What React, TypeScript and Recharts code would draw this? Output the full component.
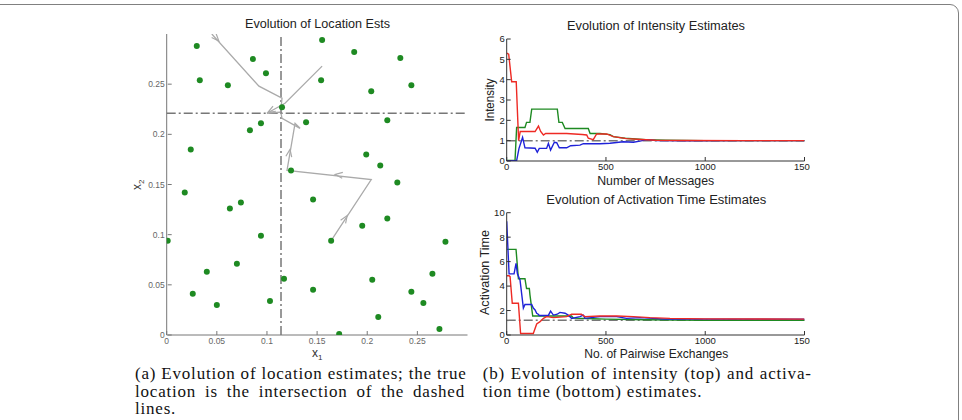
import { ScatterChart, Scatter, LineChart, Line, XAxis, YAxis, ReferenceLine } from 'recharts'

// sensor positions (x1, x2)
const sensors: [number, number][] = [
    [0.030, 0.288], [0.155, 0.294], [0.187, 0.282], [0.233, 0.276], [0.086, 0.275],
    [0.099, 0.261], [0.033, 0.254], [0.061, 0.249], [0.154, 0.254], [0.204, 0.243],
    [0.244, 0.249], [0.115, 0.227], [0.094, 0.211], [0.083, 0.204], [0.139, 0.212],
    [0.220, 0.214], [0.024, 0.185], [0.199, 0.180], [0.213, 0.169], [0.124, 0.164],
    [0.230, 0.152], [0.018, 0.142], [0.146, 0.135], [0.074, 0.132], [0.063, 0.126],
    [0.195, 0.109], [0.220, 0.116], [0.094, 0.099], [0.001, 0.094], [0.164, 0.094],
    [0.278, 0.093], [0.070, 0.071], [0.040, 0.063], [0.265, 0.061], [0.117, 0.056],
    [0.205, 0.055], [0.146, 0.045], [0.244, 0.043], [0.026, 0.041], [0.256, 0.032],
    [0.103, 0.034], [0.050, 0.030], [0.211, 0.018], [0.272, 0.006], [0.172, 0.001],
]

const trueLoc = { x: 0.114, y: 0.221 }

// estimate trajectories
const pathA: [number, number][] = [[0.045, 0.300], [0.092, 0.248], [0.115, 0.236], [0.114, 0.226]]
const pathB: [number, number][] = [[0.155, 0.268], [0.118, 0.231], [0.100, 0.221], [0.113, 0.222]]
const pathC: [number, number][] = [
    [0.164, 0.094], [0.204, 0.155], [0.120, 0.164], [0.128, 0.211],
    [0.133, 0.206], [0.115, 0.216], [0.114, 0.221],
]
// arrowheads: position and direction of travel
const arrows = [
    { x: 0.052, y: 0.293, dx: 0.047, dy: -0.052 },
    { x: 0.101, y: 0.222, dx: -0.018, dy: -0.010 },
    { x: 0.180, y: 0.119, dx: 0.040, dy: 0.061 },
    { x: 0.168, y: 0.160, dx: -0.084, dy: 0.009 },
    { x: 0.123, y: 0.185, dx: 0.008, dy: 0.047 },
]

const locTicks = [0, 0.05, 0.1, 0.15, 0.2, 0.25]

// intensity estimates vs number of messages
const intensityRed: [number, number][] = [
    [0, 5.3], [10, 5.25], [25, 3.9], [48, 3.9], [60, 1.0], [68, 1.45], [143, 1.45], [160, 1.72],
    [171, 1.45], [185, 1.28], [196, 1.36], [240, 1.35], [302, 1.35], [380, 1.3], [403, 1.28],
    [411, 1.12], [436, 1.05], [453, 1.33], [503, 1.33], [537, 1.2], [604, 1.1], [680, 1.06],
    [750, 1.02], [900, 1.01], [1200, 1.0], [1500, 1.0],
]
const intensityGreen: [number, number][] = [
    [0, 0.03], [42, 0.03], [50, 1.65], [92, 1.65], [100, 1.9], [117, 1.9], [126, 2.55], [255, 2.55],
    [263, 1.9], [280, 1.9], [294, 1.6], [411, 1.6], [420, 1.35], [470, 1.35], [520, 1.3], [537, 1.2],
    [596, 1.12], [650, 1.08], [700, 1.05], [800, 1.02], [1000, 1.0], [1500, 1.0],
]
const intensityBlue: [number, number][] = [
    [0, 0.02], [50, 0.02], [62, 0.62], [80, 1.16], [92, 0.65], [143, 0.63], [154, 0.43], [164, 0.62],
    [201, 0.62], [210, 0.87], [221, 0.54], [240, 0.92], [252, 0.9], [265, 0.65], [302, 0.65],
    [322, 0.75], [369, 0.78], [386, 0.85], [470, 0.85], [520, 0.87], [587, 0.95], [638, 0.92],
    [671, 0.98], [705, 1.05], [755, 1.0], [900, 0.99], [1200, 1.0], [1500, 1.0],
]
const trueIntensity = 1

// activation time estimates vs pairwise exchanges
const activationBlue: [number, number][] = [
    [0, 9.3], [12, 5.0], [37, 5.0], [47, 5.86], [54, 5.0], [67, 4.5], [84, 2.2], [92, 2.5], [126, 2.5],
    [134, 2.2], [143, 2.05], [151, 1.78], [159, 1.7], [164, 1.6], [210, 1.6], [221, 1.95], [235, 1.63],
    [255, 1.7], [268, 1.85], [294, 1.78], [310, 1.63], [327, 1.36], [369, 1.5], [386, 1.63],
    [394, 1.36], [470, 1.5], [554, 1.5], [604, 1.36], [671, 1.42], [800, 1.3], [1000, 1.3], [1500, 1.3],
]
const activationGreen: [number, number][] = [
    [0, 7.0], [47, 7.0], [59, 4.6], [92, 4.6], [100, 3.8], [114, 3.8], [117, 3.3], [131, 1.55],
    [327, 1.55], [336, 1.38], [400, 1.35], [500, 1.3], [700, 1.25], [1000, 1.2], [1500, 1.2],
]
const activationRed: [number, number][] = [
    [0, 4.85], [12, 4.85], [17, 4.77], [28, 2.6], [59, 2.6], [70, 0.12], [134, 0.12], [151, 0.9],
    [168, 1.09], [185, 1.36], [201, 1.5], [235, 1.42], [302, 1.5], [327, 1.7], [376, 1.7], [394, 1.5],
    [470, 1.55], [554, 1.55], [638, 1.5], [721, 1.42], [822, 1.36], [1000, 1.32], [1500, 1.3],
]
const trueActivation = 1.2

const msgTicks = [0, 500, 1000, 1500]
const intensityTicks = [0, 1, 2, 3, 4, 5, 6]
const activationTicks = [0, 2, 4, 6, 8, 10]

const RED = '#ee2a24'
const GREEN = '#1e8a22'
const BLUE = '#1f22d8'
const TRUE_DASH = '9 3 2 3'

const toXY = (pts: [number, number][]) => pts.map(([x, y]) => ({ x, y }))
const toNV = (pts: [number, number][]) => pts.map(([n, v]) => ({ n, v }))
const fmtLoc = (v: number) => String(+v.toFixed(2))

const TL = 4 // inward tick length

function makeTicks(color: string, textColor: string, fontSize: number, margin: number) {
    const Bottom = ({ x, y, payload, fmt }: any) => (
        <g>
            <line x1={x} x2={x} y1={y - margin} y2={y - margin - TL} stroke={color} />
            <text x={x} y={y} dy="0.71em" textAnchor="middle" fontSize={fontSize} fill={textColor}>
                {fmt ? fmt(payload.value) : payload.value}
            </text>
        </g>
    )
    const Left = ({ x, y, payload, fmt }: any) => (
        <g>
            <line x1={x + margin} x2={x + margin + TL} y1={y} y2={y} stroke={color} />
            <text x={x} y={y} dy="0.355em" textAnchor="end" fontSize={fontSize} fill={textColor}>
                {fmt ? fmt(payload.value) : payload.value}
            </text>
        </g>
    )
    const Top = ({ x, y }: any) => <line x1={x} x2={x} y1={y} y2={y + TL} stroke={color} />
    const Right = ({ x, y }: any) => <line x1={x} x2={x - TL} y1={y} y2={y} stroke={color} />
    return { Bottom, Left, Top, Right }
}

const locT = makeTicks('#777', '#666', 8.5, 3)
const rT = makeTicks('#333', '#222', 9.5, 2)

function Chevron(props: any) {
    const { cx, cy, payload } = props
    const a = Math.atan2(-payload.dy, payload.dx)
    const L = 8
    const s = 0.38
    const p1 = [cx - L * Math.cos(a - s), cy - L * Math.sin(a - s)]
    const p2 = [cx - L * Math.cos(a + s), cy - L * Math.sin(a + s)]
    return (
        <path
            d={`M${p1[0]},${p1[1]} L${cx},${cy} L${p2[0]},${p2[1]}`}
            fill="none"
            stroke="#aaa"
            strokeWidth={1.2}
        />
    )
}

function LocationChart() {
    const noDot = () => <g />
    return (
        <ScatterChart width={360} height={365} margin={{ top: 34, right: 12.5, bottom: 14, left: 16.7 }}>
            <XAxis type="number" dataKey="x" domain={[0, 0.3]} ticks={locTicks} allowDataOverflow interval={0}
                height={16} tickSize={0} tickMargin={3} stroke="#777" tickLine={false}
                tick={<locT.Bottom fmt={fmtLoc} />} />
            <YAxis type="number" dataKey="y" domain={[0, 0.3]} ticks={locTicks} allowDataOverflow interval={0}
                width={30} tickSize={0} tickMargin={2} stroke="#777" tickLine={false}
                tick={<locT.Left fmt={fmtLoc} />} />
            <XAxis xAxisId="top" orientation="top" type="number" dataKey="x" domain={[0, 0.3]} ticks={locTicks}
                allowDataOverflow interval={0} height={0} tickSize={0} tickMargin={0} stroke="#777" tickLine={false}
                tick={<locT.Top />} />
            <YAxis yAxisId="right" orientation="right" type="number" dataKey="y" domain={[0, 0.3]} ticks={locTicks}
                allowDataOverflow interval={0} width={0} tickSize={0} tickMargin={0} stroke="#777" tickLine={false}
                tick={<locT.Right />} />
            <ReferenceLine x={trueLoc.x} stroke="#777" strokeWidth={1.5} strokeDasharray={TRUE_DASH} />
            <ReferenceLine y={trueLoc.y} stroke="#777" strokeWidth={1.5} strokeDasharray={TRUE_DASH} />
            {[pathA, pathB, pathC].map((p, i) => (
                <Scatter key={i} data={toXY(p)} line={{ stroke: '#aaa', strokeWidth: 1.3 }} lineType="joint"
                    shape={noDot} isAnimationActive={false} />
            ))}
            <Scatter data={arrows} shape={Chevron} isAnimationActive={false} />
            <Scatter data={toXY(sensors)} fill={GREEN} shape={(p: any) => <circle cx={p.cx} cy={p.cy} r={3} fill={GREEN} />}
                isAnimationActive={false} />
        </ScatterChart>
    )
}

interface SeriesChartProps {
    series: { pts: [number, number][]; color: string }[]
    yMax: number
    yTicks: number[]
    truth: number
    height: number
    top: number
    bottom: number
}

function SeriesChart({ series, yMax, yTicks, truth, height, top, bottom }: SeriesChartProps) {
    return (
        <LineChart width={340} height={height} margin={{ top, right: 5.5, bottom, left: 16.7 }}>
            <XAxis type="number" dataKey="n" domain={[0, 1500]} ticks={msgTicks} allowDataOverflow interval={0}
                height={14} tickSize={0} tickMargin={2} stroke="#333" tickLine={false} tick={<rT.Bottom />} />
            <YAxis type="number" domain={[0, yMax]} ticks={yTicks} allowDataOverflow interval={0}
                width={20} tickSize={0} tickMargin={2} stroke="#333" tickLine={false} tick={<rT.Left />} />
            <XAxis xAxisId="top" orientation="top" type="number" dataKey="n" domain={[0, 1500]} ticks={msgTicks}
                allowDataOverflow interval={0} height={0} tickSize={0} tickMargin={0} stroke="#333" tickLine={false}
                tick={<rT.Top />} />
            <YAxis yAxisId="right" orientation="right" type="number" domain={[0, yMax]} ticks={yTicks}
                allowDataOverflow interval={0} width={0} tickSize={0} tickMargin={0} stroke="#333" tickLine={false}
                tick={<rT.Right />} />
            <ReferenceLine y={truth} stroke="#777" strokeWidth={1.5} strokeDasharray={TRUE_DASH} />
            {series.map((s, i) => (
                <Line key={i} data={toNV(s.pts)} dataKey="v" type="linear" stroke={s.color} strokeWidth={1.4}
                    dot={false} isAnimationActive={false} />
            ))}
        </LineChart>
    )
}

const sans = '"Liberation Sans", Arial, sans-serif'
const serif = '"Liberation Serif", "Times New Roman", serif'

const captionLine = (last: boolean): React.CSSProperties => ({
    textAlign: 'justify',
    textAlignLast: last ? 'left' : 'justify',
    height: 17.5,
    whiteSpace: 'nowrap',
})

const captionBox: React.CSSProperties = {
    position: 'absolute',
    top: 365,
    fontFamily: serif,
    fontSize: 17,
    letterSpacing: 0.8,
    lineHeight: '17.5px',
    color: '#111',
}

export default function App() {
    return (
        <div style={{ position: 'absolute', left: 0, top: 0, width: 962, height: 420, overflow: 'hidden', background: '#fff' }}>
            <div style={{ position: 'absolute', left: -20, top: 3.5, width: 979, height: 600, border: '1.5px solid #808080',
                borderRadius: 9, boxSizing: 'border-box' }} />

            <div style={{ position: 'absolute', left: 120, top: 0, fontFamily: sans }}>
                <LocationChart />
            </div>
            <div style={{ position: 'absolute', left: 470, top: 0, width: 340, height: 180, overflow: 'hidden', fontFamily: sans }}>
                <SeriesChart
                    series={[
                        { pts: intensityGreen, color: GREEN },
                        { pts: intensityBlue, color: BLUE },
                        { pts: intensityRed, color: RED },
                    ]}
                    yMax={6} yTicks={intensityTicks} truth={trueIntensity} height={180} top={39} bottom={5}
                />
            </div>
            <div style={{ position: 'absolute', left: 470, top: 190, width: 340, height: 170, overflow: 'hidden', fontFamily: sans }}>
                <SeriesChart
                    series={[
                        { pts: activationGreen, color: GREEN },
                        { pts: activationBlue, color: BLUE },
                        { pts: activationRed, color: RED },
                    ]}
                    yMax={10} yTicks={activationTicks} truth={trueActivation} height={170} top={22.7} bottom={11}
                />
            </div>

            {/* titles and axis labels */}
            <svg width={962} height={420} style={{ position: 'absolute', left: 0, top: 0, pointerEvents: 'none', fontFamily: sans }}>
                <g fill="#222" fontSize={12.5} textAnchor="middle">
                    <text x={317.5} y={28} textLength={145} lengthAdjust="spacingAndGlyphs">Evolution of Location Ests</text>
                    <text x={656} y={30} textLength={178} lengthAdjust="spacingAndGlyphs">Evolution of Intensity Estimates</text>
                    <text x={656.3} y={204} textLength={220} lengthAdjust="spacingAndGlyphs">Evolution of Activation Time Estimates</text>
                </g>
                <g fill="#222" fontSize={13} textAnchor="middle">
                    <text x={655.7} y={184.5} textLength={117} lengthAdjust="spacingAndGlyphs">Number of Messages</text>
                    <text x={656.3} y={358} textLength={144} lengthAdjust="spacingAndGlyphs">No. of Pairwise Exchanges</text>
                    <text transform="translate(493.5,100) rotate(-90)" textLength={43} lengthAdjust="spacingAndGlyphs">Intensity</text>
                    <text transform="translate(489,272.5) rotate(-90)" textLength={85} lengthAdjust="spacingAndGlyphs">Activation Time</text>
                </g>
                <g fill="#333" fontSize={12}>
                    <text x={312} y={357}>x<tspan fontSize={8} dy={3}>1</tspan></text>
                    <text transform="translate(141,190) rotate(-90)">x<tspan fontSize={8} dy={3}>2</tspan></text>
                </g>
            </svg>

            <div style={{ ...captionBox, left: 135, width: 330 }}>
                <div style={captionLine(false)}>(a) Evolution of location estimates; the true</div>
                <div style={captionLine(false)}>location is the intersection of the dashed</div>
                <div style={captionLine(true)}>lines.</div>
            </div>
            <div style={{ ...captionBox, left: 482.7, width: 329 }}>
                <div style={captionLine(false)}>(b) Evolution of intensity (top) and activa-</div>
                <div style={captionLine(true)}>tion time (bottom) estimates.</div>
            </div>
        </div>
    )
}
